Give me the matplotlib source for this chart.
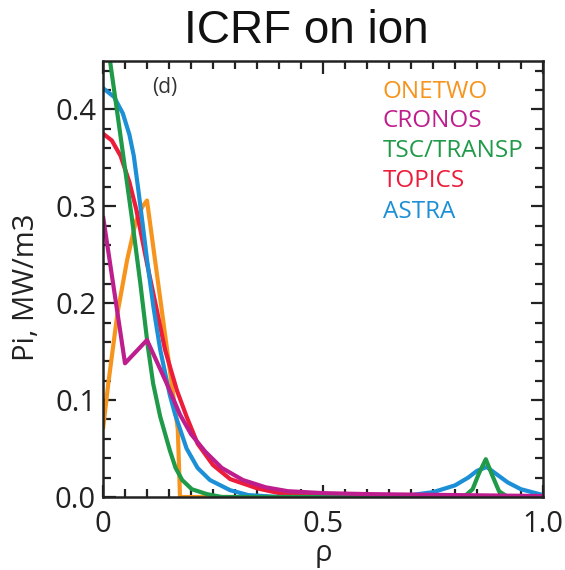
import matplotlib
matplotlib.use("Agg")
import matplotlib.pyplot as plt
from matplotlib.ticker import MultipleLocator

plt.rcParams['font.family'] = ['Open Sans', 'DejaVu Sans']

# ---- data ----
onetwo_x = [0.0, 0.012, 0.033, 0.055, 0.075, 0.09, 0.10, 0.17, 0.175, 0.5, 1.0]
onetwo_y = [0.07, 0.117, 0.19, 0.245, 0.285, 0.30, 0.306, 0.07, 0.0, 0.0, 0.0]

cronos_x = [0.0, 0.05, 0.10, 0.145, 0.175, 0.20, 0.232, 0.27, 0.318, 0.37, 0.42, 0.50, 0.60, 0.80, 1.0]
cronos_y = [0.29, 0.138, 0.162, 0.117, 0.085, 0.065, 0.047, 0.03, 0.0175, 0.01, 0.006, 0.004, 0.003, 0.002, 0.001]

tsc_x = [0.0, 0.016, 0.04, 0.065, 0.085, 0.102, 0.114, 0.13, 0.152, 0.165, 0.18, 0.202, 0.236, 0.27,
         0.82, 0.84, 0.855, 0.870, 0.885, 0.90, 0.92, 1.0]
tsc_y = [0.498, 0.45, 0.372, 0.29, 0.22, 0.155, 0.117, 0.083, 0.048, 0.03, 0.0175, 0.008, 0.003, 0.0,
         0.0, 0.008, 0.025, 0.039, 0.022, 0.006, 0.0, 0.0]

topics_x = [0.0, 0.02, 0.04, 0.06, 0.075, 0.10, 0.12, 0.141, 0.168, 0.19, 0.215, 0.25, 0.289,
            0.35, 0.40, 0.5, 1.0]
topics_y = [0.375, 0.368, 0.352, 0.325, 0.298, 0.241, 0.198, 0.152, 0.11, 0.083, 0.055, 0.033, 0.0185,
            0.009, 0.004, 0.001, 0.0]

astra_x = [0.0, 0.025, 0.045, 0.06, 0.07, 0.08, 0.09, 0.10, 0.115, 0.13, 0.152, 0.164, 0.19, 0.215,
           0.243, 0.289, 0.33, 0.40, 0.6, 0.70, 0.75, 0.80, 0.83, 0.85, 0.872, 0.89, 0.92, 0.95, 1.0]
astra_y = [0.422, 0.413, 0.396, 0.374, 0.352, 0.318, 0.282, 0.245, 0.195, 0.152, 0.105, 0.085, 0.05, 0.03,
           0.0175, 0.007, 0.002, 0.0, 0.0, 0.002, 0.005, 0.012, 0.02, 0.027, 0.031, 0.025, 0.015, 0.008, 0.002]

names = ["ONETWO", "CRONOS", "TSC/TRANSP", "TOPICS", "ASTRA"]
colors = {"ONETWO": "#F7941D", "CRONOS": "#BE1E8D", "TSC/TRANSP": "#1F9A48",
          "TOPICS": "#EC1C3A", "ASTRA": "#1C8FD6"}
series = {"ONETWO": (onetwo_x, onetwo_y), "CRONOS": (cronos_x, cronos_y),
          "TSC/TRANSP": (tsc_x, tsc_y), "TOPICS": (topics_x, topics_y),
          "ASTRA": (astra_x, astra_y)}
draw_order = ["ONETWO", "TOPICS", "ASTRA", "TSC/TRANSP", "CRONOS"]

# ---- figure ----
fig = plt.figure(figsize=(5.65, 5.7), dpi=100)
ax = fig.add_axes([103/565, 1-497/570, 440/565, 436/570])

for n in draw_order:
    x, y = series[n]
    ax.plot(x, y, color=colors[n], lw=3.0, solid_joinstyle='round', solid_capstyle='butt')

ax.set_xlim(0, 1.0)
ax.set_ylim(0, 0.45)
ax.xaxis.set_minor_locator(MultipleLocator(0.05))
ax.yaxis.set_minor_locator(MultipleLocator(0.02))
ax.set_xticks([0, 0.5, 1.0])
ax.set_xticklabels(["0", "0.5", "1.0"])
ax.set_yticks([0.0, 0.1, 0.2, 0.3, 0.4])
ax.set_yticklabels(["0.0", "0.1", "0.2", "0.3", "0.4"])
ax.tick_params(which='both', direction='in', top=True, right=True, width=1.6,
               labelsize=21, colors='#222222')
ax.tick_params(axis='y', which='both', pad=5)
ax.tick_params(axis='x', which='both', pad=9)
ax.tick_params(which='major', length=9)
ax.tick_params(which='minor', length=6)
for s in ax.spines.values():
    s.set_linewidth(1.8)
    s.set_color('#222222')

ax.set_ylabel("Pi, MW/m3", fontsize=21, color='#222222')
ax.yaxis.set_label_coords(-(103-27)/440, (497-287)/436)
ax.set_xlabel("ρ", fontsize=21, color='#222222')
ax.xaxis.set_label_coords((323-103)/440, -(553-497)/436)
ax.xaxis.label.set_va('center')
ax.yaxis.label.set_va('center')

fig.text(152/565, 1 - 88/570, "(d)", fontsize=15, color='#333333', ha='left', va='center')

leg_y = [92, 121, 151, 181, 212]
for n, py in zip(names, leg_y):
    fig.text(383/565, 1 - py/570, n, color=colors[n], fontsize=17.5, ha='left', va='center')

fig.text(306/565, 1 - 31/570, "ICRF on ion", fontsize=33, ha='center', va='center',
         family=['Liberation Sans', 'DejaVu Sans'], color='#111111')

fig.savefig("out.png", dpi=100)
